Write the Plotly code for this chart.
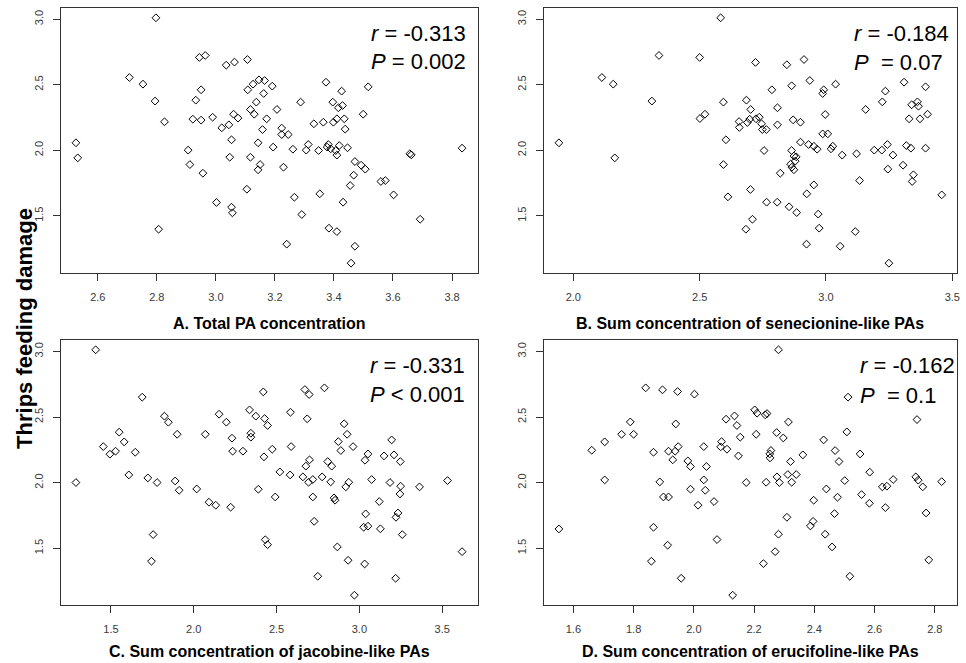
import plotly.graph_objects as go

# ---------------- data ----------------
A_x = [2.797, 2.707, 2.753, 2.794, 2.826, 2.526, 2.532, 2.806, 2.906, 2.912, 2.956, 2.922, 2.932, 2.950, 2.950, 2.944,
       2.964, 2.989, 3.002, 3.020, 3.044, 3.035, 3.063, 3.053, 3.047, 3.053, 3.056, 3.060, 3.075, 3.107, 3.108, 3.126,
       3.137, 3.117, 3.130, 3.143, 3.117, 3.105, 3.143,
       3.146, 3.165, 3.191, 3.162, 3.172, 3.158, 3.194, 3.150, 3.207, 3.223, 3.223, 3.245, 3.229, 3.261, 3.266, 3.240,
       3.287, 3.291, 3.306, 3.313, 3.332, 3.348, 3.352, 3.364, 3.373, 3.381, 3.377, 3.389, 3.383, 3.396, 3.398, 3.410,
       3.406, 3.410, 3.410, 3.426, 3.415, 3.429, 3.418, 3.435, 3.438, 3.446, 3.431, 3.455, 3.467, 3.471, 3.471, 3.458,
       3.492, 3.506, 3.499, 3.516, 3.559, 3.574, 3.602, 3.657, 3.662, 3.692, 3.834]
A_y = [3.010, 2.555, 2.504, 2.375, 2.217, 2.057, 1.942, 1.398, 2.001, 1.891, 1.825, 2.237, 2.382, 2.230, 2.461, 2.708,
       2.723, 2.252, 1.602, 2.171, 2.194, 2.649, 2.672, 2.080, 1.947, 1.566, 1.523, 2.275, 2.245, 2.692, 2.461, 2.504,
       2.367, 2.311, 2.275, 2.057, 1.947, 1.703, 1.851,
       2.537, 2.532, 2.489, 2.433, 2.240, 2.158, 2.024, 1.891, 2.311, 2.169, 2.120, 2.120, 1.871, 2.008, 1.642, 1.284,
       2.367, 1.510, 2.001, 2.044, 2.202, 1.998, 1.668, 2.214, 2.519, 2.044, 2.024, 2.011, 1.406, 2.367, 2.214, 2.240,
       1.998, 1.963, 1.380, 2.451, 2.324, 2.341, 2.036, 2.240, 2.161, 2.019, 1.604, 1.731, 1.810, 1.914, 1.268, 1.139,
       1.886, 1.856, 2.275, 2.484, 1.762, 1.769, 1.660, 1.973, 1.965, 1.474, 2.016]

B_x = [1.943, 2.113, 2.158, 2.164, 2.311, 2.339, 2.500, 2.501, 2.521, 2.583, 2.594, 2.604, 2.594, 2.612,
       2.721, 2.845, 2.913, 2.936, 2.786, 2.864, 2.991, 2.987, 3.038, 2.685,
       2.702, 2.808, 2.656, 2.657, 2.689, 2.698, 2.723, 2.736, 2.745, 2.748,
       2.764, 2.808, 2.870, 2.899, 2.997, 2.987, 3.007, 2.755, 2.864, 2.899,
       2.931, 2.952, 2.965, 2.873, 2.882, 2.860, 2.865, 2.873, 2.878, 2.819,
       3.020, 3.027, 3.064, 3.121, 3.157, 3.133, 3.191, 3.221, 3.243, 3.265,
       3.245, 3.305, 3.235, 3.223, 3.309, 3.394, 3.339, 3.362, 3.366, 3.329,
       3.372, 3.402, 3.318, 3.336, 3.394, 3.346, 3.341, 3.458, 2.701, 2.765,
       2.807, 2.854, 2.884, 2.952, 2.924, 2.969, 2.973, 2.709, 2.683, 2.923,
       3.056, 3.116, 3.249]
B_y = [2.057, 2.555, 2.504, 1.942, 2.375, 2.723, 2.708, 2.242, 2.275, 3.010, 2.367, 2.080, 1.891, 1.645,
       2.670, 2.652, 2.692, 2.532, 2.461, 2.492, 2.461, 2.433, 2.504, 2.382,
       2.311, 2.324, 2.219, 2.174, 2.212, 2.237, 2.240, 2.252, 2.202, 2.158,
       2.158, 2.194, 2.232, 2.214, 2.273, 2.125, 2.125, 1.998, 1.998, 2.062,
       2.044, 2.031, 2.008, 1.956, 1.950, 1.894, 1.871, 1.851, 1.917, 1.825,
       2.011, 2.031, 1.963, 1.973, 2.311, 1.769, 2.001, 2.001, 2.044, 1.963,
       1.856, 1.886, 2.451, 2.369, 2.519, 2.484, 2.347, 2.369, 2.336, 2.240,
       2.240, 2.275, 2.036, 2.016, 2.016, 1.813, 1.762, 1.660, 1.701, 1.604,
       1.604, 1.569, 1.525, 1.736, 1.668, 1.513, 1.406, 1.474, 1.398, 1.284,
       1.268, 1.380, 1.139]

C_x = [1.408, 1.289, 1.689, 1.454, 1.494, 1.528, 1.550, 1.580, 1.608, 1.647, 1.723, 1.779, 1.755, 1.745, 1.823, 1.847,
       1.900, 1.888, 1.912, 2.018, 2.070, 2.092, 2.133, 2.223, 2.153, 2.197, 2.231, 2.235, 2.297, 2.337, 2.345, 2.345,
       2.375, 2.390,
       2.420, 2.428, 2.446, 2.424, 2.474, 2.492, 2.432, 2.446, 2.584, 2.588, 2.520, 2.582, 2.671, 2.697, 2.789, 2.685,
       2.699, 2.677, 2.659, 2.693, 2.719, 2.719, 2.727, 2.749, 2.775, 2.809, 2.833, 2.827, 2.847, 2.853, 2.867, 2.873,
       2.888, 2.908, 2.926, 2.962, 2.918, 2.936, 2.932, 2.970, 3.034, 3.052, 3.074, 3.038, 3.026, 3.052, 3.032, 3.127,
       3.120, 3.149, 3.195, 3.209, 3.247, 3.185, 3.249, 3.245, 3.233, 3.221, 3.259, 3.219, 3.363, 3.532, 3.620]
C_y = [3.013, 2.001, 2.652, 2.275, 2.217, 2.240, 2.385, 2.311, 2.059, 2.232, 2.036, 2.001, 1.604, 1.401, 2.507, 2.461,
       2.369, 2.013, 1.942, 1.952, 2.369, 1.851, 1.828, 1.813, 2.522, 2.461, 2.339, 2.240, 2.240, 2.555, 2.377, 2.347,
       2.507, 1.950,
       2.692, 2.489, 2.436, 2.197, 2.255, 1.891, 1.565, 1.527, 2.537, 2.275, 2.082, 2.059, 2.710, 2.672, 2.723, 2.487,
       2.174, 2.126, 2.044, 2.003, 2.024, 1.891, 1.705, 1.286, 2.044, 2.161, 2.126, 2.006, 1.884, 1.866, 1.510, 2.313,
       2.245, 2.449, 2.369, 2.275, 1.968, 2.003, 1.408, 1.142, 2.171, 2.219, 2.024, 1.762, 1.660, 1.668, 1.380, 1.648,
       1.856, 2.204, 2.326, 2.212, 2.161, 2.001, 1.973, 1.914, 1.769, 1.736, 1.604, 1.271, 1.968, 2.016, 1.474]

D_x = [1.552, 1.661, 1.704, 1.704, 1.760, 1.789, 1.800, 1.840, 1.896, 1.946, 2.002, 1.940, 1.866, 1.916, 1.938, 1.948,
       1.930, 1.887, 1.899, 1.916, 1.980, 1.989, 1.989, 2.014, 2.033, 2.033, 2.042, 2.038, 2.067, 1.866, 1.913, 1.859,
       1.958, 2.077, 2.092, 2.089, 2.110, 2.107, 2.135, 2.129,
       2.143, 2.154, 2.148, 2.174, 2.202, 2.210, 2.237, 2.243, 2.207, 2.240, 2.231, 2.252, 2.256, 2.253, 2.275, 2.297,
       2.314, 2.276, 2.284, 2.312, 2.325, 2.321, 2.340, 2.362, 2.309, 2.281, 2.270, 2.281, 2.398, 2.431, 2.440, 2.469,
       2.482, 2.467, 2.387, 2.396, 2.436, 2.459, 2.501, 2.477, 2.508, 2.512, 2.518, 2.552, 2.557, 2.584, 2.583, 2.626,
       2.641, 2.662, 2.636, 2.741, 2.737, 2.745, 2.760, 2.771, 2.780, 2.823]
D_y = [1.647, 2.247, 2.311, 2.021, 2.369, 2.463, 2.369, 2.723, 2.708, 2.695, 2.675, 2.448, 2.232, 2.240, 2.240, 2.275,
       2.174, 2.006, 1.891, 1.891, 2.166, 2.123, 1.950, 1.828, 2.275, 2.021, 2.123, 1.942, 1.856, 1.660, 1.523, 1.401,
       1.271, 1.566, 2.313, 2.273, 2.255, 2.484, 2.509, 1.142,
       2.436, 2.347, 2.204, 2.001, 2.555, 2.530, 2.517, 2.527, 2.369, 2.003, 1.383, 2.219, 2.245, 2.189, 2.382, 2.341,
       2.463, 2.044, 2.001, 2.062, 2.003, 2.161, 2.062, 2.212, 1.736, 1.607, 1.474, 3.013, 1.866, 2.326, 1.952, 2.245,
       2.161, 1.764, 1.670, 1.705, 1.607, 1.510, 2.016, 1.889, 2.387, 2.652, 1.286, 2.219, 1.909, 2.080, 1.843, 1.968,
       1.973, 2.024, 1.810, 2.481, 2.044, 2.019, 1.968, 1.769, 1.411, 2.008]

A_ticks = [2.6, 2.8, 3.0, 3.2, 3.4, 3.6, 3.8]
B_ticks = [2.0, 2.5, 3.0, 3.5]
C_ticks = [1.5, 2.0, 2.5, 3.0, 3.5]
D_ticks = [1.6, 1.8, 2.0, 2.2, 2.4, 2.6, 2.8]
Y_ticks = [1.5, 2.0, 2.5, 3.0]

titles = ["A. Total PA concentration",
          "B. Sum concentration of senecionine-like PAs",
          "C. Sum concentration of jacobine-like PAs",
          "D. Sum concentration of erucifoline-like PAs"]
r_vals = ["-0.313", "-0.184", "-0.331", "-0.162"]
p_vals = ["= 0.002", "\u00a0= 0.07", "< 0.001", "\u00a0= 0.1"]
y_title = "Thrips feeding damage"

# ---------------- layout helpers ----------------
W, H = 966, 663
def fx(px):
    return px / W
def fy(py):
    return 1 - py / H

def padded(vals):
    lo, hi = min(vals), max(vals)
    d = (hi - lo) * 0.04
    return [lo - d, hi + d]

panels = [
    dict(x=A_x, y=A_y, ticks=A_ticks, xd=(60.7, 479.0), yd=(8.0, 273.0), ax=370, ry=33, py=61, ty=323),
    dict(x=B_x, y=B_y, ticks=B_ticks, xd=(545.3, 960.0), yd=(8.0, 273.0), ax=855, ry=33, py=62, ty=323),
    dict(x=C_x, y=C_y, ticks=C_ticks, xd=(60.7, 479.0), yd=(340.0, 605.0), ax=369, ry=365, py=394, ty=651),
    dict(x=D_x, y=D_y, ticks=D_ticks, xd=(545.3, 960.0), yd=(340.0, 605.0), ax=861, ry=365, py=395, ty=651),
]

FONT = "Arial, 'Liberation Sans', Helvetica, sans-serif"
AXC = "#333333"

fig = go.Figure()
annotations = []
for i, p in enumerate(panels):
    n = "" if i == 0 else str(i + 1)
    fig.add_trace(go.Scatter(
        x=p["x"], y=p["y"], mode="markers",
        xaxis="x" + n, yaxis="y" + n,
        marker=dict(symbol="diamond-open", size=6, color="black", line=dict(width=1, color="black")),
        showlegend=False, hoverinfo="x+y"))
    common = dict(showgrid=False, zeroline=False, showline=True, mirror=True,
                  linecolor=AXC, linewidth=1, ticks="outside", ticklen=7, tickwidth=1,
                  tickcolor=AXC, tickfont=dict(family=FONT, size=11, color="#3a3a3a"),
                  tickformat=".1f")
    fig.layout["xaxis" + n] = dict(common,
        domain=[fx(p["xd"][0]), fx(p["xd"][1])], anchor="y" + n,
        range=padded(p["x"]), tickvals=p["ticks"], ticklabelstandoff=7)
    fig.layout["yaxis" + n] = dict(common,
        domain=[fy(p["yd"][1]), fy(p["yd"][0])], anchor="x" + n,
        range=padded(p["y"]), tickvals=Y_ticks, tickangle=-90, ticklabelstandoff=5)
    cx = (p["xd"][0] + p["xd"][1]) / 2
    annotations.append(dict(text="<b>" + titles[i] + "</b>", x=fx(cx), y=fy(p["ty"]),
                            xref="paper", yref="paper", xanchor="center", yanchor="middle",
                            showarrow=False, font=dict(family=FONT, size=16, color="black")))
    annotations.append(dict(text="<i>r</i> = " + r_vals[i], x=fx(p["ax"]), y=fy(p["ry"]),
                            xref="paper", yref="paper", xanchor="left", yanchor="middle",
                            showarrow=False, font=dict(family=FONT, size=22, color="black")))
    annotations.append(dict(text="<i>P</i> " + p_vals[i], x=fx(p["ax"]), y=fy(p["py"]),
                            xref="paper", yref="paper", xanchor="left", yanchor="middle",
                            showarrow=False, font=dict(family=FONT, size=22, color="black")))

annotations.append(dict(text="<b>" + y_title + "</b>", x=fx(24), y=fy(328), textangle=-90,
                        xref="paper", yref="paper", xanchor="center", yanchor="middle",
                        showarrow=False, font=dict(family=FONT, size=22, color="black")))

fig.update_layout(width=W, height=H, margin=dict(l=0, r=0, t=0, b=0),
                  paper_bgcolor="white", plot_bgcolor="white",
                  annotations=annotations, font=dict(family=FONT))

fig.write_html("out.html", config={"displayModeBar": False},
               post_script="document.body.style.margin='0';document.body.style.overflow='hidden';")
